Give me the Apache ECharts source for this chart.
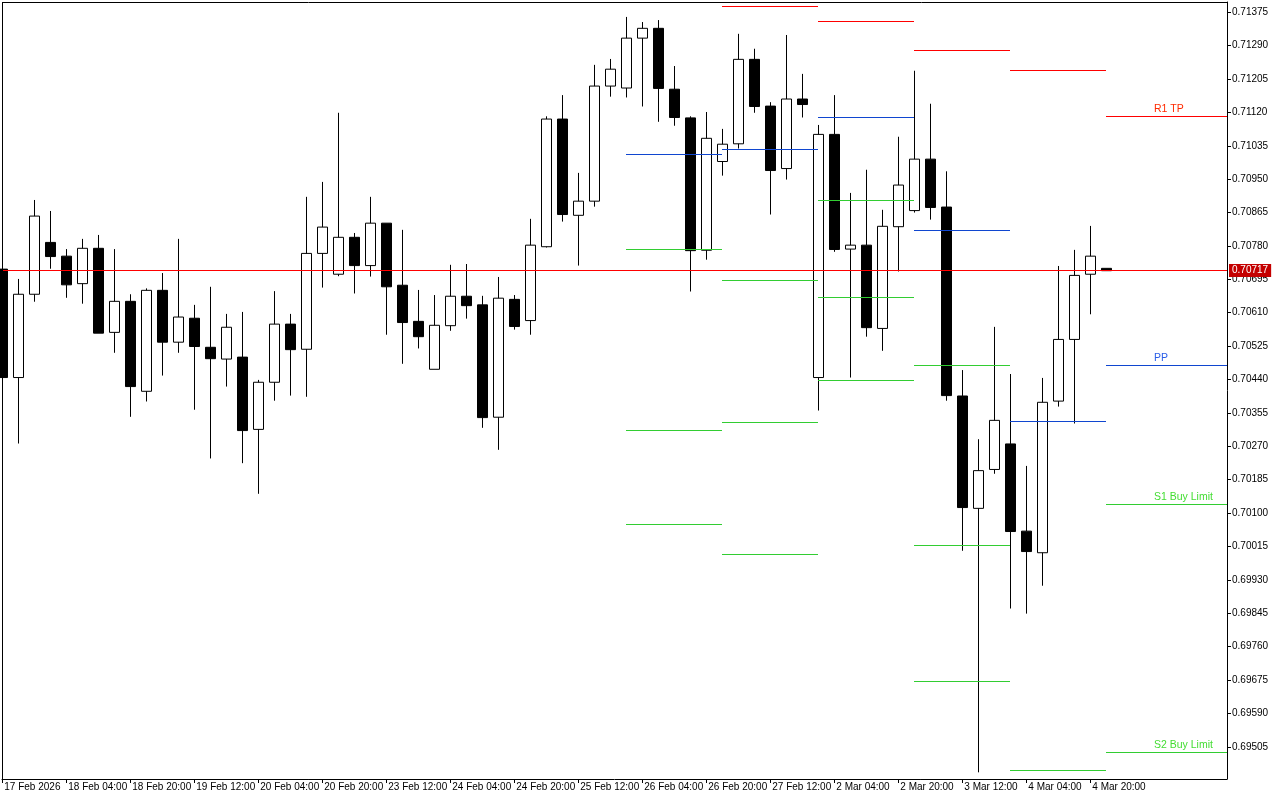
<!DOCTYPE html>
<html>
<head>
<meta charset="utf-8">
<script src="https://cdn.jsdelivr.net/npm/echarts@6/dist/echarts.min.js"></script>
<style>
html,body{margin:0;padding:0;background:#fff;}
#chart{width:1280px;height:800px;}
</style>
</head>
<body>
<div id="chart"></div>
<script>
// ---- data ----
const categories = [
 '17 Feb 12:00','17 Feb 16:00','17 Feb 20:00',
 '18 Feb 00:00','18 Feb 04:00','18 Feb 08:00','18 Feb 12:00','18 Feb 16:00','18 Feb 20:00',
 '19 Feb 00:00','19 Feb 04:00','19 Feb 08:00','19 Feb 12:00','19 Feb 16:00','19 Feb 20:00',
 '20 Feb 00:00','20 Feb 04:00','20 Feb 08:00','20 Feb 12:00','20 Feb 16:00','20 Feb 20:00',
 '23 Feb 00:00','23 Feb 04:00','23 Feb 08:00','23 Feb 12:00','23 Feb 16:00','23 Feb 20:00',
 '24 Feb 00:00','24 Feb 04:00','24 Feb 08:00','24 Feb 12:00','24 Feb 16:00','24 Feb 20:00',
 '25 Feb 00:00','25 Feb 04:00','25 Feb 08:00','25 Feb 12:00','25 Feb 16:00','25 Feb 20:00',
 '26 Feb 00:00','26 Feb 04:00','26 Feb 08:00','26 Feb 12:00','26 Feb 16:00','26 Feb 20:00',
 '27 Feb 00:00','27 Feb 04:00','27 Feb 08:00','27 Feb 12:00','27 Feb 16:00','27 Feb 20:00',
 '2 Mar 00:00','2 Mar 04:00','2 Mar 08:00','2 Mar 12:00','2 Mar 16:00','2 Mar 20:00',
 '3 Mar 00:00','3 Mar 04:00','3 Mar 08:00','3 Mar 12:00','3 Mar 16:00','3 Mar 20:00',
 '4 Mar 00:00','4 Mar 04:00','4 Mar 08:00','4 Mar 12:00','4 Mar 16:00','4 Mar 20:00',
 '5 Mar 00:00'
];
const xTickIndex = [0,4,8,12,16,20,24,28,32,36,40,44,48,52,56,60,64,68];
const xTickLabels = ['17 Feb 2026','18 Feb 04:00','18 Feb 20:00','19 Feb 12:00','20 Feb 04:00','20 Feb 20:00',
 '23 Feb 12:00','24 Feb 04:00','24 Feb 20:00','25 Feb 12:00','26 Feb 04:00','26 Feb 20:00','27 Feb 12:00',
 '2 Mar 04:00','2 Mar 20:00','3 Mar 12:00','4 Mar 04:00','4 Mar 20:00'];
const yTickValues = [0.69505,0.69590,0.69675,0.69760,0.69845,0.69930,0.70015,0.70100,0.70185,0.70270,
 0.70355,0.70440,0.70525,0.70610,0.70695,0.70780,0.70865,0.70950,0.71035,0.71120,0.71205,0.71290,0.71375];

const opens = [0.70721,0.70445,0.70657,0.70789,0.70754,0.70684,0.70774,0.70560,0.70639,0.70410,
 0.70667,0.70535,0.70596,0.70522,0.70492,0.70497,0.70313,0.70433,0.70581,0.70517,
 0.70761,0.70708,0.70802,0.70730,0.70838,0.70680,0.70588,0.70466,0.70577,0.70652,
 0.70630,0.70344,0.70644,0.70590,0.70778,0.71103,0.70858,0.70894,0.71187,0.71182,
 0.71309,0.71334,0.71179,0.71106,0.70769,0.70995,0.71040,0.71255,0.71136,0.70977,
 0.71154,0.70445,0.71064,0.70772,0.70782,0.70570,0.70829,0.70870,0.71001,0.70879,
 0.70398,0.70112,0.70211,0.70276,0.70054,0.69999,0.70385,0.70542,0.70708,0.70723];
const closes = [0.70445,0.70657,0.70856,0.70753,0.70681,0.70774,0.70558,0.70639,0.70422,0.70667,
 0.70535,0.70599,0.70524,0.70493,0.70573,0.70310,0.70433,0.70581,0.70516,0.70761,
 0.70828,0.70802,0.70730,0.70838,0.70676,0.70585,0.70549,0.70578,0.70652,0.70628,
 0.70343,0.70647,0.70575,0.70782,0.71103,0.70860,0.70894,0.71187,0.71230,0.71309,
 0.71334,0.71181,0.71107,0.70768,0.71054,0.71039,0.71255,0.71135,0.70972,0.71154,
 0.71140,0.71064,0.70771,0.70782,0.70572,0.70830,0.70935,0.71001,0.70878,0.70399,
 0.70114,0.70208,0.70336,0.70053,0.70002,0.70382,0.70542,0.70705,0.70754,0.70717];
const lows = [0.70445,0.70277,0.70638,0.70722,0.70648,0.70633,0.70558,0.70508,0.70345,0.70384,
 0.70450,0.70508,0.70363,0.70239,0.70422,0.70227,0.70149,0.70386,0.70399,0.70396,
 0.70674,0.70703,0.70659,0.70702,0.70554,0.70480,0.70519,0.70466,0.70564,0.70595,
 0.70317,0.70261,0.70567,0.70554,0.70776,0.70842,0.70730,0.70880,0.71160,0.71158,
 0.71135,0.71096,0.71086,0.70664,0.70745,0.70959,0.71028,0.71119,0.70860,0.70949,
 0.71107,0.70361,0.70765,0.70445,0.70549,0.70513,0.70715,0.70865,0.70847,0.70386,
 0.70004,0.69440,0.70200,0.69857,0.69844,0.69915,0.70371,0.70328,0.70606,0.70717];
const highs = [0.70721,0.70696,0.70897,0.70869,0.70772,0.70798,0.70808,0.70772,0.70657,0.70672,
 0.70711,0.70798,0.70630,0.70676,0.70607,0.70612,0.70439,0.70665,0.70607,0.70905,
 0.70943,0.71119,0.70813,0.70905,0.70838,0.70821,0.70668,0.70655,0.70732,0.70734,
 0.70653,0.70701,0.70655,0.70849,0.71110,0.71164,0.70966,0.71241,0.71256,0.71363,
 0.71350,0.71355,0.71238,0.71110,0.71121,0.71078,0.71320,0.71282,0.71146,0.71317,
 0.71218,0.71088,0.71164,0.70915,0.70974,0.70872,0.71058,0.71226,0.71142,0.70970,
 0.70464,0.70288,0.70574,0.70454,0.70220,0.70444,0.70729,0.70770,0.70831,0.70723];

const currentPrice = 0.70717;

// daily pivot levels: start candle of each day, next day start (-1 = open ended)
const dayStart = [39, 45, 51, 57, 63, 69];
const dayEnd   = [45, 51, 57, 63, 69, -1];
const levelR1 = [null,    0.71390, 0.71352, 0.71278, 0.71226, 0.71110];
const levelPP = [0.71013, 0.71026, 0.71108, 0.70820, 0.70334, 0.70476];
const levelS1 = [0.70771, 0.70693, 0.70896, 0.70476, 0.69445, 0.70122];
const levelS2 = [0.70310, 0.70330, 0.70649, 0.70018, null,    0.69490];
const levelS3 = [0.70070, 0.69995, 0.70437, 0.69671, null,    null];
const levelNames = ['R1 TP', 'PP', 'S1 Buy Limit', 'S2 Buy Limit', ''];

// ---- build ----
const levelColors = ['#ff0000', '#1046d0', '#32cd32', '#32cd32', '#32cd32'];
const labelColors = ['#ff2a00', '#2a5ee8', '#44dd33', '#44dd33', '#44dd33'];
const levelSets = [levelR1, levelPP, levelS1, levelS2, levelS3];
const levelData = [];
levelSets.forEach((arr, t) => {
  arr.forEach((v, d) => {
    if (v != null) levelData.push([dayStart[d], dayEnd[d], v, t]);
  });
});
const candleData = opens.map((o, i) => [i, o, closes[i], lows[i], highs[i]]);

const FONT = '"Liberation Sans", Arial, sans-serif';
const chart = echarts.init(document.getElementById('chart'), null, {renderer: 'canvas'});
chart.setOption({
  animation: false,
  backgroundColor: '#ffffff',
  grid: {left: 2, top: 2, width: 1225, height: 777, show: false},
  xAxis: {
    type: 'value',
    min: -0.01875,
    max: 76.54375,
    axisLine: {show: true, onZero: false, lineStyle: {color: '#000', width: 1}},
    axisTick: {show: true, length: 4, customValues: xTickIndex, lineStyle: {color: '#000'}},
    axisLabel: {
      show: true,
      customValues: xTickIndex,
      formatter: (v) => xTickLabels[xTickIndex.indexOf(Math.round(v))] || '',
      align: 'left',
      margin: 3,
      padding: [0, 0, 0, 2],
      color: '#000',
      fontFamily: FONT,
      fontSize: 10,
      hideOverlap: false
    },
    splitLine: {show: false}
  },
  yAxis: {
    type: 'value',
    position: 'right',
    min: 0.69423,
    max: 0.71401,
    axisLine: {show: true, onZero: false, lineStyle: {color: '#000', width: 1}},
    axisTick: {show: true, length: 4, customValues: yTickValues, lineStyle: {color: '#000'}},
    axisLabel: {
      show: true, customValues: yTickValues,
      formatter: (v) => v.toFixed(5),
      margin: 5, color: '#000', fontFamily: FONT, fontSize: 10
    },
    splitLine: {show: false}
  },
  series: [
    {
      type: 'candlestick',
      data: candleData,
      barWidth: 10,
      clip: true,
      z: 2,
      itemStyle: {
        color: '#ffffff', color0: '#000000',
        borderColor: '#000000', borderColor0: '#000000', borderWidth: 1
      }
    },
    {
      type: 'custom',
      z: 3,
      data: levelData,
      encode: {x: 0, y: 2},
      clip: false,
      renderItem: function (params, api) {
        const s = api.value(0), e = api.value(1), v = api.value(2), t = api.value(3);
        const p0 = api.coord([s, v]);
        const cs = params.coordSys;
        const x2 = e < 0 ? cs.x + cs.width : api.coord([e, v])[0];
        const y = Math.floor(p0[1]) + 0.5;
        const children = [{
          type: 'line',
          shape: {x1: Math.round(p0[0]), y1: y, x2: Math.round(x2), y2: y},
          style: {stroke: levelColors[t], lineWidth: 1}
        }];
        if (e < 0 && levelNames[t]) {
          const px = api.coord([s + 3, v])[0];
          children.push({
            type: 'text',
            x: Math.round(px), y: y - 2,
            style: {text: levelNames[t], fill: labelColors[t], font: '10.5px ' + FONT, align: 'left', verticalAlign: 'bottom'}
          });
        }
        return {type: 'group', children: children};
      }
    },
    {
      type: 'custom',
      z: 4,
      data: [[0, currentPrice]],
      encode: {x: 0, y: 1},
      clip: false,
      renderItem: function (params, api) {
        const v = api.value(1);
        const cs = params.coordSys;
        const y = Math.floor(api.coord([0, v])[1]) + 0.5;
        return {type: 'group', children: [
          {type: 'line', shape: {x1: cs.x + 1, y1: y, x2: cs.x + cs.width, y2: y},
           style: {stroke: '#ff0000', lineWidth: 1, opacity: 1}},
          {type: 'text', x: cs.x + cs.width + 2, y: y,
           style: {text: v.toFixed(5), fill: '#ffffff', backgroundColor: '#c40000',
                   padding: [2, 3, 1, 3], font: '10px ' + FONT, align: 'left', verticalAlign: 'middle'}}
        ]};
      }
    }
  ],
  graphic: [
    {type: 'line', z: 101, shape: {x1: 2.5, y1: 2, x2: 2.5, y2: 780}, style: {stroke: '#000', lineWidth: 1}},
    {type: 'line', z: 101, shape: {x1: 2, y1: 2.5, x2: 1228, y2: 2.5}, style: {stroke: '#000', lineWidth: 1}}
  ]
});
</script>
</body>
</html>
